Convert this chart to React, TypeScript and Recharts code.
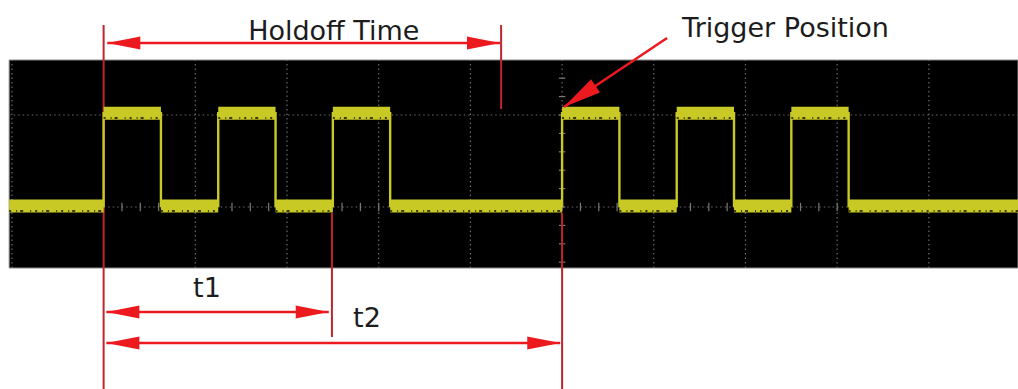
import React from "react";
import {
  ComposedChart,
  Line,
  XAxis,
  YAxis,
  ReferenceArea,
  ReferenceLine,
  ReferenceDot,
} from "recharts";

// time in horizontal divisions (0 = trigger point), level in vertical divisions
const edgeTimes = [-5, -4.375, -3.75, -3.125, -2.5, -1.875, 0, 0.625, 1.25, 1.875, 2.5, 3.125];
const lowLevel = 0.01;
const highLevel = 1.02;
const sweepStart = -6.03;
const sweepEnd = 4.972;

const screenTop = 1.598;
const screenBottom = -0.663;
const gridTimes = [-6, -5, -4, -3, -2, -1, 0, 1, 2, 3, 4];
const gridLevels = [0, 1];

// annotation marks
const holdoffStart = -5;
const holdoffEnd = -0.665;
const t1End = -2.51;
const triggerTime = 0;

const labels = [
  { text: "Holdoff Time", t: -3.424, v: 1.815 },
  { text: "Trigger Position", t: 1.309, v: 1.848 },
  { text: "t1", t: -4.024, v: -0.978 },
  { text: "t2", t: -2.279, v: -1.304 },
];

const W = 1018;
const H = 389;
const X_DOMAIN: [number, number] = [-6.13, 4.972];
const Y_DOMAIN: [number, number] = [-1.978, 2.25];

const YELLOW = "#c9c925";
const RED = "#ec1a1f";
const DARK_RED = "#bf262c";
const GRID = "#6a6a6a";

// thin trace through every edge
const signal: { t: number; v: number }[] = [{ t: sweepStart, v: lowLevel }];
let lvl = lowLevel;
edgeTimes.forEach((t) => {
  const next = lvl === lowLevel ? highLevel : lowLevel;
  signal.push({ t, v: lvl }, { t, v: next });
  lvl = next;
});
signal.push({ t: sweepEnd, v: lvl });

// thick noisy band only on the flat parts
const band: { t: number; b: number | null }[] = [];
for (let i = 0; i < signal.length - 1; i++) {
  const a = signal[i];
  const c = signal[i + 1];
  if (a.v === c.v) {
    band.push({ t: a.t, b: a.v }, { t: c.t, b: c.v }, { t: c.t, b: null });
  }
}
const noise = band.map((p) => ({ t: p.t, n: p.b === null ? null : p.b - 0.052 }));

const minorTicks = (from: number, to: number) => {
  const out: number[] = [];
  for (let k = Math.ceil(from / 0.2); k * 0.2 <= to; k++) out.push(+(k * 0.2).toFixed(2));
  return out;
};

const arrow =
  (color: string, both: boolean, headLen = 33, headHalf = 6.5) =>
  (p: any) => {
    const { x1, y1, x2, y2 } = p;
    const len = Math.hypot(x2 - x1, y2 - y1) || 1;
    const ux = (x2 - x1) / len;
    const uy = (y2 - y1) / len;
    const nx = -uy;
    const ny = ux;
    const head = (tx: number, ty: number, dx: number, dy: number) => {
      const bx = tx - dx * headLen;
      const by = ty - dy * headLen;
      return `${tx},${ty} ${bx + nx * headHalf},${by + ny * headHalf} ${bx - nx * headHalf},${by - ny * headHalf}`;
    };
    return (
      <g>
        <line x1={x1} y1={y1} x2={x2} y2={y2} stroke={color} strokeWidth={2.6} />
        <polygon points={head(x2, y2, ux, uy)} fill={color} />
        {both && <polygon points={head(x1, y1, -ux, -uy)} fill={color} />}
      </g>
    );
  };

export default function App() {
  return (
    <div style={{ width: W, height: H, background: "#fff" }}>
      <style>{"body{margin:0}"}</style>
      <ComposedChart width={W} height={H} data={signal} margin={{ top: 0, right: 0, left: 0, bottom: 0 }}>
        <XAxis dataKey="t" type="number" domain={X_DOMAIN} allowDataOverflow hide />
        <YAxis type="number" domain={Y_DOMAIN} allowDataOverflow hide />

        <ReferenceArea
          x1={sweepStart}
          x2={sweepEnd}
          y1={screenBottom}
          y2={screenTop}
          fill="#000"
          fillOpacity={1}
          stroke="#8a8a8a"
          strokeWidth={1}
          ifOverflow="visible"
          zIndex={-300}
        />

        {gridTimes.map((t) => (
          <ReferenceLine
            key={`gx${t}`}
            segment={[{ x: t, y: screenBottom }, { x: t, y: screenTop }]}
            stroke={GRID}
            strokeWidth={1.2}
            strokeDasharray="1.5 3"
            ifOverflow="visible"
            zIndex={-200}
          />
        ))}
        {gridLevels.map((v) => (
          <ReferenceLine
            key={`gy${v}`}
            segment={[{ x: sweepStart, y: v }, { x: sweepEnd, y: v }]}
            stroke={GRID}
            strokeWidth={1.2}
            strokeDasharray="1.5 3"
            ifOverflow="visible"
            zIndex={-200}
          />
        ))}
        {minorTicks(-6, 4.9).map((t) => (
          <ReferenceLine
            key={`tx${t}`}
            segment={[{ x: t, y: -0.045 }, { x: t, y: 0.045 }]}
            stroke="#7a7a7a"
            strokeWidth={1.2}
            ifOverflow="visible"
            zIndex={-200}
          />
        ))}
        {minorTicks(screenBottom, screenTop).map((v) => (
          <ReferenceLine
            key={`ty${v}`}
            segment={[{ x: triggerTime - 0.035, y: v }, { x: triggerTime + 0.035, y: v }]}
            stroke="#7a7a7a"
            strokeWidth={1.2}
            ifOverflow="visible"
            zIndex={-200}
          />
        ))}

        {/* thin red markers */}
        <ReferenceLine
          segment={[{ x: holdoffStart, y: 1.978 }, { x: holdoffStart, y: Y_DOMAIN[0] }]}
          stroke={DARK_RED}
          strokeWidth={2}
          ifOverflow="visible"
          zIndex={-100}
        />
        <ReferenceLine
          segment={[{ x: holdoffEnd, y: 1.978 }, { x: holdoffEnd, y: 1.065 }]}
          stroke={DARK_RED}
          strokeWidth={2}
          ifOverflow="visible"
          zIndex={-100}
        />
        <ReferenceLine
          segment={[{ x: t1End, y: -0.065 }, { x: t1End, y: -1.413 }]}
          stroke={DARK_RED}
          strokeWidth={2}
          ifOverflow="visible"
          zIndex={-100}
        />
        <ReferenceLine
          segment={[{ x: triggerTime, y: -0.065 }, { x: triggerTime, y: Y_DOMAIN[0] }]}
          stroke={DARK_RED}
          strokeWidth={2}
          ifOverflow="visible"
          zIndex={-100}
        />

        <Line
          dataKey="v"
          stroke={YELLOW}
          strokeWidth={2.4}
          dot={false}
          activeDot={false}
          isAnimationActive={false}
          type="linear"
        />
        <Line
          data={band}
          dataKey="b"
          stroke={YELLOW}
          strokeWidth={13}
          strokeLinecap="butt"
          dot={false}
          activeDot={false}
          connectNulls={false}
          isAnimationActive={false}
          type="linear"
        />
        <Line
          data={noise}
          dataKey="n"
          stroke="#3d3d0a"
          strokeWidth={2}
          strokeDasharray="2 5 1 3 3 7 1 4"
          strokeLinecap="butt"
          dot={false}
          activeDot={false}
          connectNulls={false}
          isAnimationActive={false}
          type="linear"
        />

        {/* arrows */}
        <ReferenceLine
          segment={[{ x: holdoffStart + 0.04, y: 1.783 }, { x: holdoffEnd - 0.012, y: 1.783 }]}
          shape={arrow(RED, true)}
          ifOverflow="visible"
          zIndex={1500}
        />
        <ReferenceLine
          segment={[{ x: holdoffStart + 0.03, y: -1.141 }, { x: t1End - 0.035, y: -1.141 }]}
          shape={arrow(RED, true)}
          ifOverflow="visible"
          zIndex={1500}
        />
        <ReferenceLine
          segment={[{ x: holdoffStart + 0.03, y: -1.478 }, { x: triggerTime - 0.02, y: -1.478 }]}
          shape={arrow(RED, true)}
          ifOverflow="visible"
          zIndex={1500}
        />
        <ReferenceLine
          segment={[{ x: 1.145, y: 1.837 }, { x: triggerTime + 0.02, y: 1.087 }]}
          shape={arrow(RED, false, 38, 8)}
          ifOverflow="visible"
          zIndex={1500}
        />

        {labels.map((l) => (
          <ReferenceDot
            key={l.text}
            x={l.t}
            y={l.v}
            r={0}
            ifOverflow="visible"
            zIndex={2000}
            shape={(p: any) => (
              <text
                x={p.cx}
                y={p.cy}
                fontFamily="DejaVu Sans"
                fontSize={27}
                fill="#1c1c1c"
              >
                {l.text}
              </text>
            )}
          />
        ))}
      </ComposedChart>
    </div>
  );
}
